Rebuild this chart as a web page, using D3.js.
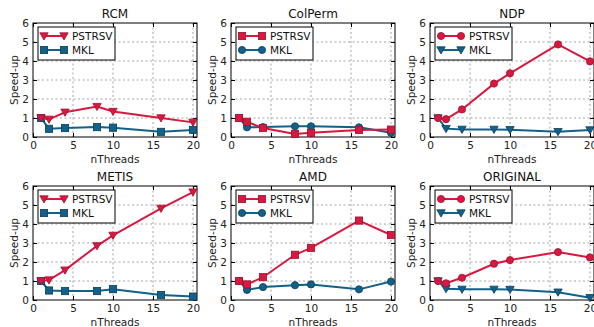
<!DOCTYPE html>
<html>
<head>
<meta charset="utf-8">
<script src="https://cdn.jsdelivr.net/npm/d3@7"></script>
<style>
  body { margin: 0; background: #fff; }
  svg { display: block; font-family: "DejaVu Sans", sans-serif; }
  .grid line { stroke: #000; stroke-opacity: 0.45; stroke-width: 0.8; stroke-dasharray: 2,2.5; }
</style>
</head>
<body>
<svg width="594" height="327"></svg>
<script>
// threads on x
var threads = [1, 2, 4, 8, 10, 16, 20];

var titles = ["RCM", "ColPerm", "NDP", "METIS", "AMD", "ORIGINAL"];

// speed-up values
var pstrsv_rcm      = [1.0, 0.93, 1.3, 1.6, 1.34, 1.0, 0.77];
var mkl_rcm         = [1.0, 0.43, 0.47, 0.52, 0.49, 0.27, 0.37];
var pstrsv_colperm  = [1.0, 0.8, 0.47, 0.16, 0.22, 0.37, 0.39];
var mkl_colperm     = [1.0, 0.51, 0.52, 0.56, 0.56, 0.51, 0.22];
var pstrsv_ndp      = [1.0, 0.94, 1.45, 2.81, 3.35, 4.87, 3.98];
var mkl_ndp         = [1.0, 0.44, 0.4, 0.4, 0.38, 0.28, 0.37];
var pstrsv_metis    = [1.0, 1.05, 1.57, 2.85, 3.4, 4.82, 5.68];
var mkl_metis       = [1.0, 0.5, 0.47, 0.47, 0.57, 0.26, 0.18];
var pstrsv_amd      = [1.0, 0.82, 1.2, 2.38, 2.74, 4.18, 3.42];
var mkl_amd         = [1.0, 0.53, 0.68, 0.78, 0.82, 0.56, 0.97];
var pstrsv_original = [1.0, 0.88, 1.17, 1.91, 2.1, 2.52, 2.24];
var mkl_original    = [1.0, 0.59, 0.56, 0.56, 0.55, 0.41, 0.12];

var pstrsv_all = [pstrsv_rcm, pstrsv_colperm, pstrsv_ndp, pstrsv_metis, pstrsv_amd, pstrsv_original];
var mkl_all = [mkl_rcm, mkl_colperm, mkl_ndp, mkl_metis, mkl_amd, mkl_original];
// marker per panel: [pstrsv, mkl]
var markers = [["tri", "square"], ["square", "circle"], ["circle", "tri"],
               ["tri", "square"], ["square", "circle"], ["circle", "tri"]];

var xTicks = [0, 5, 10, 15, 20];
var yTicks = [0, 1, 2, 3, 4, 5, 6];

var red = "#d9183f", redEdge = "#a01030";
var blue = "#11618a", blueEdge = "#0a3f5c";

var svg = d3.select("svg");

var colLeft = [33, 231, 430];
var rowTop = [23, 186];
var plotW = 164, plotH = 114;

function drawMarker(g, type, x, y, fill, edge) {
    var s = 3.6;
    if (type == "circle") {
        g.append("circle").attr("cx", x).attr("cy", y).attr("r", s)
            .attr("fill", fill).attr("stroke", edge).attr("stroke-width", 0.8);
    } else if (type == "square") {
        g.append("rect").attr("x", x - s).attr("y", y - s).attr("width", s * 2).attr("height", s * 2)
            .attr("fill", fill).attr("stroke", edge).attr("stroke-width", 0.8);
    } else {
        g.append("path").attr("d", "M" + (x - 4.2) + "," + (y - 3.2) + "L" + (x + 4.2) + "," + (y - 3.2) + "L" + x + "," + (y + 4) + "Z")
            .attr("fill", fill).attr("stroke", edge).attr("stroke-width", 0.8);
    }
}

titles.forEach(function(title, i) {
    var left = colLeft[i % 3], top = rowTop[Math.floor(i / 3)];
    var g = svg.append("g").attr("transform", "translate(" + left + "," + top + ")");

    var x = d3.scaleLinear().domain([0, 20.5]).range([0, plotW]);
    var y = d3.scaleLinear().domain([0, 6]).range([plotH, 0]);

    // grid
    var grid = g.append("g").attr("class", "grid");
    xTicks.forEach(function(t) {
        if (t > 0) grid.append("line").attr("x1", x(t)).attr("x2", x(t)).attr("y1", 0).attr("y2", plotH);
    });
    yTicks.forEach(function(t) {
        if (t > 0 && t < 6) grid.append("line").attr("x1", 0).attr("x2", plotW).attr("y1", y(t)).attr("y2", y(t));
    });

    // axes with inward ticks
    var fmt = d3.format("d");
    var xa = g.append("g").attr("transform", "translate(0," + plotH + ")")
        .call(d3.axisBottom(x).tickValues(xTicks).tickFormat(fmt).tickSizeInner(-4).tickSizeOuter(0).tickPadding(5));
    var xt = g.append("g").call(d3.axisTop(x).tickValues(xTicks).tickSizeInner(-4).tickSizeOuter(0).tickFormat(""));
    var ya = g.append("g")
        .call(d3.axisLeft(y).tickValues(yTicks).tickFormat(fmt).tickSizeInner(-4).tickSizeOuter(0).tickPadding(4));
    var yr = g.append("g").attr("transform", "translate(" + plotW + ",0)")
        .call(d3.axisRight(y).tickValues(yTicks).tickSizeInner(-4).tickSizeOuter(0).tickFormat(""));
    [xa, xt, ya, yr].forEach(function(a) {
        a.select(".domain").remove();
        a.selectAll("line").attr("stroke", "#000");
        a.selectAll("text").attr("font-size", 10.5).attr("fill", "#222").attr("font-family", "DejaVu Sans");
    });
    g.append("rect").attr("width", plotW).attr("height", plotH)
        .attr("fill", "none").attr("stroke", "#000").attr("stroke-width", 1);

    // lines
    var line = d3.line().x(function(d, k) { return x(threads[k]); }).y(function(d) { return y(d); });
    var marks = g.append("g");
    [[mkl_all[i], blue, blueEdge, markers[i][1]], [pstrsv_all[i], red, redEdge, markers[i][0]]].forEach(function(s) {
        marks.append("path").datum(s[0]).attr("d", line)
            .attr("fill", "none").attr("stroke", s[1]).attr("stroke-width", 2);
        s[0].forEach(function(v, k) {
            drawMarker(marks, s[3], x(threads[k]), y(v), s[1], s[2]);
        });
    });

    // title and labels
    g.append("text").attr("x", plotW / 2).attr("y", -5).attr("text-anchor", "middle")
        .attr("font-size", 12).attr("fill", "#111").text(title);
    g.append("text").attr("x", plotW / 2).attr("y", plotH + 26).attr("text-anchor", "middle")
        .attr("font-size", 10.5).attr("fill", "#222").text("nThreads");
    g.append("text").attr("transform", "translate(-15," + (plotH / 2) + ") rotate(-90)")
        .attr("text-anchor", "middle").attr("font-size", 10.5).attr("fill", "#222").text("Speed-up");

    // legend
    var lg = g.append("g").attr("transform", "translate(5,4)");
    lg.append("rect").attr("width", 77).attr("height", 33)
        .attr("fill", "#fff").attr("stroke", "#000").attr("stroke-width", 1);
    [["PSTRSV", red, redEdge, markers[i][0]], ["MKL", blue, blueEdge, markers[i][1]]].forEach(function(e, k) {
        var ly = 9 + k * 14;
        lg.append("line").attr("x1", 6).attr("x2", 26).attr("y1", ly).attr("y2", ly)
            .attr("stroke", e[1]).attr("stroke-width", 2);
        drawMarker(lg, e[3], 6, ly, e[1], e[2]);
        drawMarker(lg, e[3], 26, ly, e[1], e[2]);
        lg.append("text").attr("x", 34).attr("y", ly + 4).attr("font-size", 10.5).attr("fill", "#111").text(e[0]);
    });
});
</script>
</body>
</html>
